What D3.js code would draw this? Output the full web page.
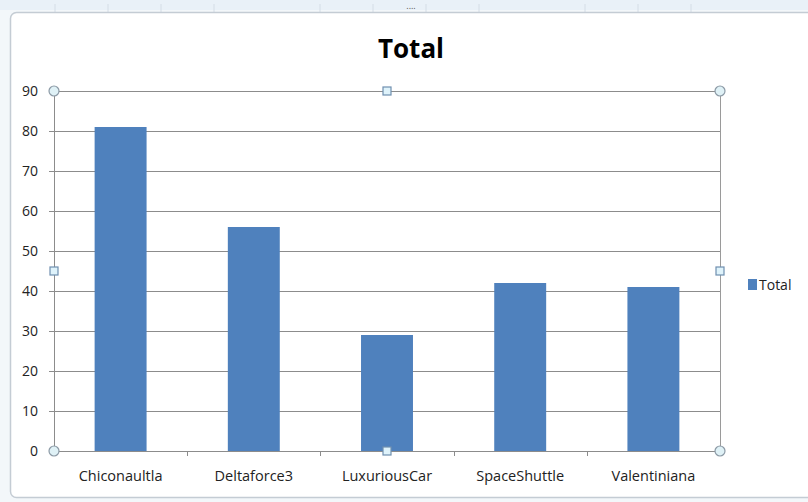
<html>
<head>
  <style>
    body { margin: 0; background: #fff; }
  </style>
</head>
<body>
<script src="https://d3js.org/d3.v7.min.js"></script>
<script>
  // categories and values
  var categories = ["Chiconaultla", "Deltaforce3", "LuxuriousCar", "SpaceShuttle", "Valentiniana"];
  var totals = [81, 56, 29, 42, 41];
  var yTicks = [0, 10, 20, 30, 40, 50, 60, 70, 80, 90];
  var seriesName = "Total";

  var width = 808, height = 502;
  var plot = { left: 54, right: 720, top: 91, bottom: 451 };
  var font = "'Open Sans', 'Noto Sans', sans-serif";

  var svg = d3.select("body").append("svg")
    .attr("width", width).attr("height", height);

  // spreadsheet behind the chart
  svg.append("rect").attr("width", width).attr("height", height).attr("fill", "#f3f7fa");
  svg.append("rect").attr("x", 0).attr("y", 0).attr("width", width).attr("height", 10).attr("fill", "#e9f1f8");
  [55, 108, 161, 214, 320, 373, 426, 479, 585, 638, 691].forEach(function (x) {
    svg.append("line").attr("x1", x).attr("x2", x).attr("y1", 4).attr("y2", 12)
      .attr("stroke", "#d4dde6");
  });
  svg.append("text").attr("x", 411).attr("y", 9).attr("text-anchor", "middle")
    .attr("font-size", 9).attr("fill", "#555").attr("font-family", font).text("....");

  // chart frame
  svg.append("rect")
    .attr("x", 10.5).attr("y", 12.5).attr("width", 808).attr("height", 485)
    .attr("rx", 6).attr("fill", "#fff").attr("stroke", "#c4ccd4").attr("stroke-width", 1.5);

  var x = d3.scaleBand().domain(categories).range([plot.left, plot.right]).paddingInner(0.61).paddingOuter(0.305);
  var xOuter = d3.scaleBand().domain(categories).range([plot.left, plot.right]);
  var y = d3.scaleLinear().domain([0, 90]).range([plot.bottom, plot.top]);

  // gridlines
  svg.append("g").selectAll("line").data(yTicks).join("line")
    .attr("x1", plot.left - 5).attr("x2", plot.right)
    .attr("y1", function (d) { return Math.round(y(d)) + 0.5; })
    .attr("y2", function (d) { return Math.round(y(d)) + 0.5; })
    .attr("stroke", "#8c8c8c").attr("stroke-width", 1);

  // bars
  svg.append("g").selectAll("rect").data(totals).join("rect")
    .attr("x", function (d, i) { return x(categories[i]); })
    .attr("y", function (d) { return y(d); })
    .attr("width", x.bandwidth())
    .attr("height", function (d) { return y(0) - y(d); })
    .attr("fill", "#4f81bd");

  // axes lines
  svg.append("line").attr("x1", plot.left + 0.5).attr("x2", plot.left + 0.5)
    .attr("y1", plot.top).attr("y2", plot.bottom).attr("stroke", "#8c8c8c");
  svg.append("line").attr("x1", plot.right + 0.5).attr("x2", plot.right + 0.5)
    .attr("y1", plot.top).attr("y2", plot.bottom).attr("stroke", "#9a9a9a");
  svg.append("g").selectAll("line").data(categories.slice(1)).join("line")
    .attr("x1", function (d) { return Math.round(xOuter(d)) + 0.5; })
    .attr("x2", function (d) { return Math.round(xOuter(d)) + 0.5; })
    .attr("y1", plot.bottom).attr("y2", plot.bottom + 5)
    .attr("stroke", "#8c8c8c");

  // y tick labels
  svg.append("g").selectAll("text").data(yTicks).join("text")
    .attr("x", 38).attr("y", function (d) { return y(d); })
    .attr("dy", "0.35em").attr("text-anchor", "end")
    .attr("font-family", font).attr("font-size", 14).attr("fill", "#222")
    .text(function (d) { return d; });

  // x category labels
  svg.append("g").selectAll("text").data(categories).join("text")
    .attr("x", function (d) { return xOuter(d) + xOuter.bandwidth() / 2; })
    .attr("y", 476).attr("dy", "0.35em").attr("text-anchor", "middle")
    .attr("font-family", font).attr("font-size", 14.5).attr("fill", "#222")
    .text(function (d) { return d; });

  // title
  svg.append("text").attr("x", 411).attr("y", 58).attr("text-anchor", "middle")
    .attr("font-family", font).attr("font-size", 26).attr("font-weight", "bold")
    .attr("fill", "#000").text(seriesName);

  // legend
  svg.append("rect").attr("x", 748).attr("y", 279).attr("width", 9).attr("height", 11).attr("fill", "#4f81bd");
  svg.append("text").attr("x", 759).attr("y", 285).attr("dy", "0.35em")
    .attr("font-family", font).attr("font-size", 14).attr("fill", "#222").text(seriesName);

  // selection handles on the plot area
  var midX = (plot.left + plot.right) / 2, midY = (plot.top + plot.bottom) / 2;
  var corners = [[plot.left, plot.top], [plot.right, plot.top], [plot.left, plot.bottom], [plot.right, plot.bottom]];
  var sides = [[midX, plot.top], [plot.left, midY], [plot.right, midY], [midX, plot.bottom]];
  svg.append("g").selectAll("circle").data(corners).join("circle")
    .attr("cx", function (d) { return d[0]; }).attr("cy", function (d) { return d[1]; })
    .attr("r", 5).attr("fill", "#dff1f6").attr("stroke", "#8c9aa6").attr("stroke-width", 1.2);
  svg.append("g").selectAll("rect").data(sides).join("rect")
    .attr("x", function (d) { return d[0] - 4; }).attr("y", function (d) { return d[1] - 4; })
    .attr("width", 8).attr("height", 8)
    .attr("fill", "#dff3fb").attr("stroke", "#6f8fb0").attr("stroke-width", 1.2);
</script>
</body>
</html>
